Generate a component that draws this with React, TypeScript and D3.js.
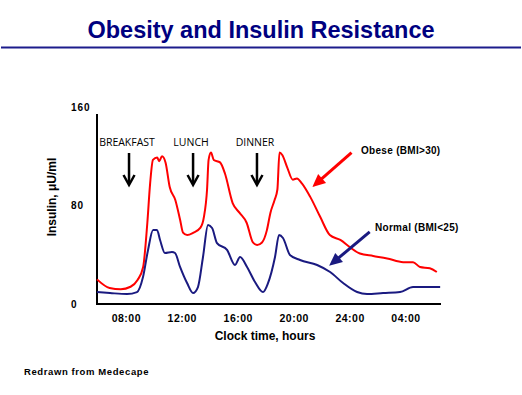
import React from "react";
import * as d3 from "d3";

const obeseHours = [5.9, 6.8, 7.6, 8.3, 8.8, 9.2, 9.5, 9.7, 9.9, 10.2, 10.35, 10.55, 10.8, 11.1, 11.5, 11.85, 12.05, 12.35, 12.8, 13.3, 13.55, 13.77, 13.88, 14.05, 14.25, 14.7, 15.05, 15.6, 16.1, 16.6, 17.05, 17.35, 17.7, 18.05, 18.3, 18.6, 18.8, 18.95, 19.15, 19.5, 19.9, 20.2, 20.55, 21.15, 21.85, 22.55, 23.3, 24.0, 24.7, 25.65, 26.65, 27.8, 28.5, 29.0, 29.7, 30.2];
const obeseValues = [20, 13, 12, 14, 19.5, 30, 66, 98, 117, 119, 116, 120, 115, 95, 84.5, 68, 58, 56, 58, 62, 71, 93, 117, 123, 117, 115, 106, 82, 74, 66, 50, 48, 50, 60, 74, 84.5, 93, 123, 121, 111, 101, 102, 98, 87, 71, 56, 52, 46, 41, 39, 37, 34, 34, 30, 29, 26];

const normalHours = [5.9, 6.83, 8.05, 8.76, 9.19, 9.55, 9.91, 10.19, 10.41, 10.76, 11.26, 11.48, 11.84, 12.34, 12.77, 13.12, 13.48, 13.84, 14.13, 14.48, 15.2, 15.77, 16.13, 16.63, 17.2, 17.77, 18.13, 18.63, 18.92, 19.2, 19.7, 20.42, 21.64, 22.57, 23.5, 24.5, 25.21, 26.36, 27.57, 28.5, 29.22, 30.44];
const normalValues = [9.7, 8.9, 8.1, 9.7, 21.9, 43.9, 60.1, 60.1, 52, 41.4, 42.2, 41.4, 30.1, 17, 8.9, 13.8, 38.2, 64.2, 61.7, 49.5, 43.9, 31.7, 38.2, 30.1, 17.9, 9.7, 17, 38.2, 56, 53.6, 39.8, 35.7, 31.7, 26, 17, 9.7, 8.1, 8.9, 9.7, 13.8, 13.8, 13.8];

const xTickHours = [8, 12, 16, 20, 24, 28];
const xTickLabels = ["08:00", "12:00", "16:00", "20:00", "24:00", "04:00"];
const yTickValues = [0, 80, 160];
const mealNames = ["BREAKFAST", "LUNCH", "DINNER"];
const mealHours = [8.19, 12.77, 17.34];

const W = 522;
const H = 395;
const plot = { left: 97, right: 441, top: 114, bottom: 304 };

export default function App() {
  const x = d3.scaleLinear().domain([5.9, 30.5]).range([plot.left, plot.right]);
  const y = d3.scaleLinear().domain([0, 160]).range([plot.bottom, 107]);

  const line = d3
    .line<[number, number]>()
    .x((d) => x(d[0]))
    .y((d) => y(d[1]))
    .curve(d3.curveMonotoneX);

  const obese = obeseHours.map((h, i) => [h, obeseValues[i]] as [number, number]);
  const normal = normalHours.map((h, i) => [h, normalValues[i]] as [number, number]);

  const red = "#ff0000";
  const navy = "#1a1a80";
  const boldFont = "'Liberation Sans', Arial, sans-serif";

  // annotation arrows (in data units)
  const redArrow = { from: [24.1, 123], to: [21.3, 95] };
  const blueArrow = { from: [25.4, 58.5], to: [22.5, 31] };

  const arrowHead = (fx: number, fy: number, tx: number, ty: number, len: number, half: number) => {
    const dx = tx - fx;
    const dy = ty - fy;
    const l = Math.hypot(dx, dy);
    const ux = dx / l;
    const uy = dy / l;
    const bx = tx - ux * len;
    const by = ty - uy * len;
    return `M${tx},${ty}L${bx - uy * half},${by + ux * half}L${bx + uy * half},${by - ux * half}Z`;
  };

  const renderAnnot = (a: { from: number[]; to: number[] }, color: string) => {
    const fx = x(a.from[0]);
    const fy = y(a.from[1]);
    const tx = x(a.to[0]);
    const ty = y(a.to[1]);
    const dx = tx - fx;
    const dy = ty - fy;
    const l = Math.hypot(dx, dy);
    const sx = tx - (dx / l) * 10;
    const sy = ty - (dy / l) * 10;
    return (
      <g>
        <line x1={fx} y1={fy} x2={sx} y2={sy} stroke={color} strokeWidth={3} />
        <path d={arrowHead(fx, fy, tx, ty, 13, 6)} fill={color} />
      </g>
    );
  };

  return (
    <svg width={W} height={H} style={{ position: "absolute", left: 0, top: 0, background: "#fff" }}>
      <text
        x={261}
        y={38}
        textAnchor="middle"
        fontFamily={boldFont}
        fontWeight="bold"
        fontSize={24}
        fill="#000080"
        textLength={347}
        lengthAdjust="spacingAndGlyphs"
      >
        Obesity and Insulin Resistance
      </text>
      <line x1={1} x2={521} y1={47.5} y2={47.5} stroke="#1c1c8c" strokeWidth={2.2} />

      {/* axes */}
      <line x1={plot.left} x2={plot.left} y1={plot.top} y2={plot.bottom + 1} stroke="#000" strokeWidth={2} />
      <line x1={plot.left - 1} x2={plot.right} y1={plot.bottom} y2={plot.bottom} stroke="#000" strokeWidth={2} />

      {yTickValues.map((v) => (
        <text key={v} x={71} y={y(v) + (v === 0 ? 0 : 0)} dy="0.35em" fontFamily={boldFont} fontWeight="bold" fontSize={10} letterSpacing={1}>
          {v}
        </text>
      ))}

      {xTickHours.map((h, i) => (
        <text key={h} x={x(h)} y={322} textAnchor="middle" fontFamily={boldFont} fontWeight="bold" fontSize={10.5} letterSpacing={0.5}>
          {xTickLabels[i]}
        </text>
      ))}

      <text x={265} y={340} textAnchor="middle" fontFamily={boldFont} fontWeight="bold" fontSize={12}>
        Clock time, hours
      </text>

      <text
        transform={`translate(56,197) rotate(-90)`}
        textAnchor="middle"
        fontFamily={boldFont}
        fontWeight="bold"
        fontSize={12}
      >
        Insulin, μU/ml
      </text>

      {/* meal arrows */}
      {mealHours.map((h, i) => (
        <g key={mealNames[i]}>
          <text x={x(h) - 2} y={146} textAnchor="middle" fontFamily="'Open Sans', sans-serif" fontSize={10.5} fill="#000">
            {mealNames[i]}
          </text>
          <line x1={x(h)} x2={x(h)} y1={153} y2={184} stroke="#000" strokeWidth={2.5} />
          <path d={`M${x(h) - 5.5},${175}L${x(h)},${185}L${x(h) + 5.5},${175}`} fill="none" stroke="#000" strokeWidth={2.5} />
        </g>
      ))}

      <path d={line(obese) ?? ""} fill="none" stroke={red} strokeWidth={2} />
      <path d={line(normal) ?? ""} fill="none" stroke={navy} strokeWidth={2} />

      {renderAnnot(redArrow, red)}
      {renderAnnot(blueArrow, navy)}

      <text x={361} y={154} fontFamily={boldFont} fontWeight="bold" fontSize={10} letterSpacing={0.3}>
        Obese (BMI&gt;30)
      </text>
      <text x={375} y={231} fontFamily={boldFont} fontWeight="bold" fontSize={10} letterSpacing={0.3}>
        Normal (BMI&lt;25)
      </text>

      <text x={24} y={375} fontFamily={boldFont} fontWeight="bold" fontSize={9.5} letterSpacing={0.6}>
        Redrawn from Medecape
      </text>
    </svg>
  );
}
